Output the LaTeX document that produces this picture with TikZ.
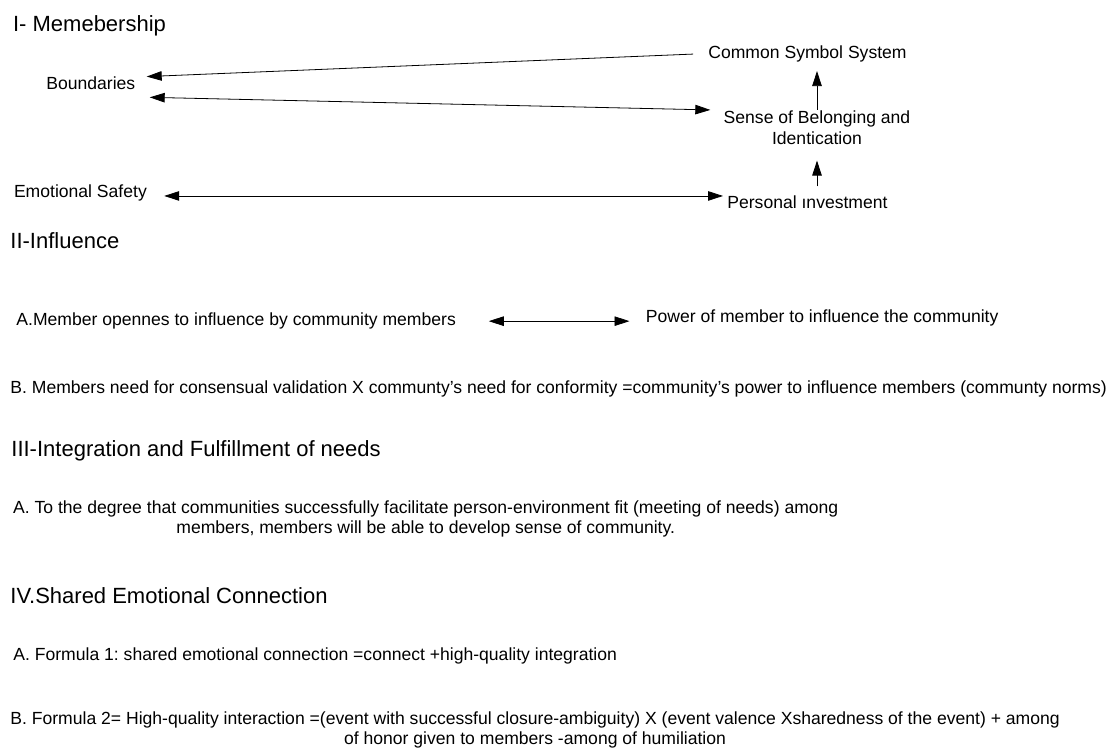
\documentclass[tikz,border=0pt]{standalone}
\usepackage{fontspec}
\setmainfont{Liberation Sans}
\usetikzlibrary{arrows.meta}
\frenchspacing

\begin{document}
\begin{tikzpicture}[x=1pt,y=-1pt,line width=0.8,
	txt/.style={font=\fontsize{17.57}{20}\selectfont,inner sep=0pt,anchor=base west},
	hd/.style={font=\fontsize{22}{26}\selectfont,inner sep=0pt,anchor=base west},
	link/.style={-{Triangle[length=15pt,width=9.5pt]}},
	dlink/.style={{Triangle[length=15pt,width=9.5pt]}-{Triangle[length=15pt,width=9.5pt]}}]
			\useasboundingbox (0,0) rectangle (1114,753);
			% I- membership
			\node[hd] (hdI) at (12.7,31.7) {I- Memebership};
			\node[txt] (bnd) at (46,89.3) {Boundaries};
			\node[txt] (css) at (708,58) {Common Symbol System};
			\node[txt,align=center,anchor=base] (sns) at (817,144) {Sense of Belonging and\\[1pt]Identication};
			\node[txt] (ems) at (13.6,197) {Emotional Safety};
			\node[txt] (per) at (727,208) {Personal ınvestment};
			\draw[link,shorten <=15pt,shorten >=11pt] (css.west)--([yshift=6pt]bnd.east);
			\draw[dlink,shorten <=14pt,shorten >=13pt] ([yshift=-14pt]bnd.east)--([yshift=17pt]sns.west);
			\draw[link,shorten >=9pt] (sns.north)--(sns.north |- css.south);
			\draw[link,shorten <=8.5pt,shorten >=16pt] (sns.south |- per.north)--(sns.south);
			\draw[dlink,shorten <=17pt,shorten >=4pt] ([yshift=-3.5pt]ems.east)--([yshift=-3.5pt]ems.east -| per.west);
			% II- influence
			\node[hd] (hdII) at (10,248) {II-Influence};
			\node[txt] (mem) at (16,325.7) {A.Member opennes to influence by community members};
			\node[txt] (pow) at (645.5,322) {Power of member to influence the community};
			\draw[dlink,shorten <=32.5pt,shorten >=16pt] (mem.east)--(mem.east -| pow.west);
			\node[txt] (nrm) at (10,393) {B. Members need for consensual validation X communty’s need for conformity =community’s power to influence members (communty norms)};
			% III- integration
			\node[hd] (hdIII) at (11,456) {III-Integration and Fulfillment of needs};
			\node[txt,align=center] (fit) at (12.7,533) {A. To the degree that communities successfully facilitate person-environment fit (meeting of needs) among\\members, members will be able to develop sense of community.};
			% IV- shared emotional connection
			\node[hd] (hdIV) at (10,603) {IV.Shared Emotional Connection};
			\node[txt] (frmA) at (13,660) {A. Formula 1: shared emotional connection =connect +high-quality integration};
			\node[txt,align=center] (frmB) at (10,744) {B. Formula 2= High-quality interaction =(event with successful closure-ambiguity) X (event valence Xsharedness of the event) + among\\of honor given to members -among of humiliation};
		\end{tikzpicture}
\end{document}
